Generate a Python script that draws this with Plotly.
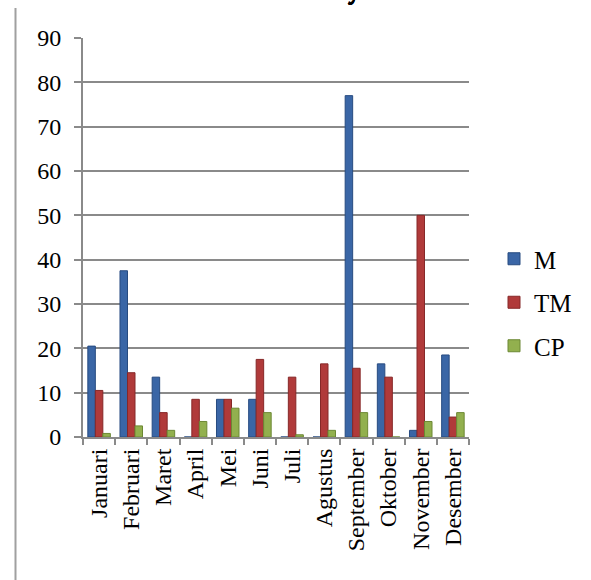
import plotly.graph_objects as go

months = ["Januari", "Februari", "Maret", "April", "Mei", "Juni", "Juli",
          "Agustus", "September", "Oktober", "November", "Desember"]
m_vals = [20.5, 37.5, 13.5, 0, 8.5, 8.5, 0, 0, 77, 16.5, 1.5, 18.5]
tm_vals = [10.5, 14.5, 5.5, 8.5, 8.5, 17.5, 13.5, 16.5, 15.5, 13.5, 50, 4.5]
cp_vals = [0.8, 2.5, 1.5, 3.5, 6.5, 5.5, 0.5, 1.5, 5.5, 0, 3.5, 5.5]
y_ticks = [0, 10, 20, 30, 40, 50, 60, 70, 80, 90]

series = [
    ("M", m_vals, "#3a66a6", "#274b80"),
    ("TM", tm_vals, "#b03a3a", "#862828"),
    ("CP", cp_vals, "#92b04e", "#6c8834"),
]

FONT = "Liberation Serif"
# serif faces for the heading glyph that runs off the top edge
SERIF_FACES = ["Liberation Serif", "DejaVu Serif", "serif", "Times New Roman", "Noto Serif"]

fig = go.Figure()
for name, vals, color, edge in series:
    fig.add_trace(go.Bar(
        x=months, y=vals, name=name,
        marker=dict(color=color, line=dict(color=edge, width=1)),
        legendgroup=name,
    ))

# plot area in pixels: x 83..469, y 38..437
W, H = 591, 580
L, R, T, B = 83, 469, 38, 437
pw, ph = R - L, B - T

def px_x(x):
    return (x - L) / pw

def px_y(y):
    return (B - y) / ph

# page frame line on the left
fig.add_shape(type="line", xref="paper", yref="paper",
              x0=px_x(15.5), x1=px_x(15.5), y0=px_y(8), y1=px_y(585),
              line=dict(color="#a0a0a0", width=2))

# heading above the chart, only its descender shows at the top edge
for fam in SERIF_FACES:
    fig.add_annotation(xref="paper", yref="paper", x=px_x(354), y=px_y(7),
                       text="y", showarrow=False, xanchor="center", yanchor="bottom",
                       font=dict(family=fam, size=24, color="black"))

fig.update_layout(
    width=W, height=H,
    margin=dict(l=L, r=W - R, t=T, b=H - B, pad=0),
    paper_bgcolor="white", plot_bgcolor="white",
    barmode="group", bargap=0.3, bargroupgap=0,
    font=dict(family=FONT, size=24, color="black"),
    showlegend=True,
    legend=dict(x=px_x(494), y=px_y(236), xanchor="left", yanchor="top",
                font=dict(family=FONT, size=25, color="black"),
                tracegroupgap=8, itemwidth=30, bgcolor="rgba(0,0,0,0)"),
    xaxis=dict(
        type="category", tickangle=-90, showgrid=False,
        showline=True, linecolor="#8a8a8a", linewidth=2,
        ticks="outside", ticklen=6, tickcolor="#8a8a8a", tickwidth=2,
        tickson="boundaries", tickfont=dict(family=FONT, size=24),
        fixedrange=True,
    ),
    yaxis=dict(
        range=[0, 90], tickvals=y_ticks, showgrid=True,
        gridcolor="#8a8a8a", gridwidth=2,
        showline=True, linecolor="#8a8a8a", linewidth=2,
        ticks="outside", ticklen=7, tickcolor="#8a8a8a", tickwidth=2,
        tickfont=dict(family=FONT, size=24), zeroline=False,
        ticklabelstandoff=8,
    ),
)

fig.write_html("out.html")
